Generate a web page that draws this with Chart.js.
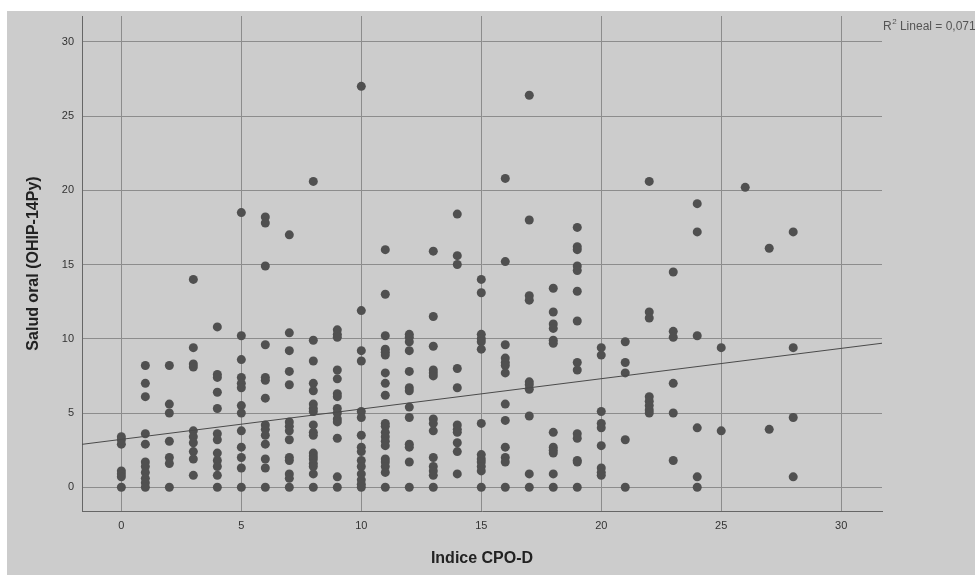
<!DOCTYPE html>
<html>
<head>
<meta charset="utf-8">
<title>Salud oral vs Indice CPO-D</title>
<script src="https://cdn.jsdelivr.net/npm/chart.js@4.4.0/dist/chart.umd.min.js"></script>
<style>
  html, body { margin: 0; padding: 0; background: #ffffff; }
  #wrap { width: 975px; height: 575px; }
</style>
</head>
<body>
<div id="wrap"><canvas id="scatterChart" width="975" height="575"></canvas></div>
<script>
// CPO-D index values (x) and the OHIP-14Py scores seen at each of them (y)
const cpoValues = [0, 1, 2, 3, 4, 5, 6, 7, 8, 9, 10, 11, 12, 13, 14, 15, 16, 17, 18, 19, 20, 21, 22, 23, 24, 25, 26, 27, 28];
const ohipByCpo = [
  [3.4, 3.2, 2.9, 1.1, 0.9, 0.7, 0],
  [8.2, 7.0, 6.1, 3.6, 2.9, 1.7, 1.4, 1.0, 0.6, 0.3, 0],
  [8.2, 5.6, 5.0, 3.1, 2.0, 1.6, 0],
  [14.0, 9.4, 8.3, 8.1, 3.8, 3.4, 3.0, 2.4, 1.9, 0.8],
  [10.8, 7.6, 7.4, 6.4, 5.3, 3.6, 3.2, 2.3, 1.8, 1.4, 0.8, 0],
  [18.5, 10.2, 8.6, 7.4, 7.0, 6.7, 5.5, 5.0, 3.8, 2.7, 2.0, 1.3, 0],
  [18.2, 17.8, 14.9, 9.6, 7.4, 7.2, 6.0, 4.2, 3.9, 3.5, 2.9, 1.9, 1.3, 0],
  [17.0, 10.4, 9.2, 7.8, 6.9, 4.4, 4.1, 3.8, 3.2, 2.0, 1.8, 0.9, 0.6, 0],
  [20.6, 9.9, 8.5, 7.0, 6.5, 5.6, 5.3, 5.1, 4.2, 3.7, 3.5, 2.3, 2.1, 1.9, 1.6, 1.4, 0.9, 0],
  [10.6, 10.3, 10.1, 7.9, 7.3, 6.3, 6.1, 5.3, 5.0, 4.6, 4.4, 3.3, 0.7, 0],
  [27.0, 11.9, 9.2, 8.5, 5.1, 4.7, 3.5, 2.7, 2.4, 1.8, 1.4, 0.9, 0.5, 0.2, 0],
  [16.0, 13.0, 10.2, 9.3, 9.1, 8.9, 7.7, 7.0, 6.2, 4.3, 4.1, 3.7, 3.4, 3.1, 2.8, 1.9, 1.7, 1.4, 1.0, 0],
  [10.3, 10.1, 9.8, 9.2, 7.8, 6.7, 6.5, 5.4, 4.7, 2.9, 2.7, 1.7, 0],
  [15.9, 11.5, 9.5, 7.9, 7.7, 7.5, 4.6, 4.3, 3.8, 2.0, 1.4, 1.1, 0.8, 0],
  [18.4, 15.6, 15.0, 8.0, 6.7, 4.2, 3.9, 3.7, 3.0, 2.4, 0.9],
  [14.0, 13.1, 10.3, 10.0, 9.8, 9.3, 4.3, 2.2, 1.9, 1.7, 1.4, 1.1, 0],
  [20.8, 15.2, 9.6, 8.7, 8.4, 8.2, 7.7, 5.6, 4.5, 2.7, 2.0, 1.7, 0],
  [26.4, 18.0, 12.9, 12.6, 7.1, 6.9, 6.6, 4.8, 0.9, 0],
  [13.4, 11.8, 11.0, 10.7, 9.9, 9.7, 3.7, 2.7, 2.5, 2.3, 0.9, 0],
  [17.5, 16.2, 16.0, 14.9, 14.6, 13.2, 11.2, 8.4, 7.9, 3.6, 3.3, 1.8, 1.7, 0],
  [9.4, 8.9, 5.1, 4.3, 4.0, 2.8, 1.3, 1.0, 0.8],
  [9.8, 8.4, 7.7, 3.2, 0],
  [20.6, 11.8, 11.4, 6.1, 5.8, 5.5, 5.2, 5.0],
  [14.5, 10.5, 10.1, 7.0, 5.0, 1.8],
  [19.1, 17.2, 10.2, 4.0, 0.7, 0],
  [9.4, 3.8],
  [20.2],
  [16.1, 3.9],
  [17.2, 9.4, 4.7, 0.7]
];

// fit line endpoints (at the axis limits) and its R2 text
const fitLineX = [-1.64, 31.7];
const fitLineY = [2.89, 9.70];
const r2Text = '0,071';

// tick labels
const xTicks = [0, 5, 10, 15, 20, 25, 30];
const yTicks = [0, 5, 10, 15, 20, 25, 30];

const points = [];
cpoValues.forEach(function (cpo, i) {
  ohipByCpo[i].forEach(function (score) {
    points.push({ x: cpo, y: score });
  });
});
const fitPoints = fitLineX.map(function (x, i) { return { x: x, y: fitLineY[i] }; });

const FONT = 'Arial, "Liberation Sans", sans-serif';
Chart.defaults.font.family = FONT;

// grey panel behind everything, like SPSS output
const panelBackground = {
  id: 'panelBackground',
  beforeDraw(chart) {
    const ctx = chart.ctx;
    ctx.save();
    ctx.fillStyle = '#cccccc';
    ctx.fillRect(7, 11, chart.width - 7, chart.height - 11);
    ctx.restore();
  }
};

// "R2 Lineal = 0,071" label at the top right
const r2Label = {
  id: 'r2Label',
  afterDraw(chart) {
    const ctx = chart.ctx;
    const x = chart.chartArea.right + 1;
    const y = 27;
    ctx.save();
    ctx.fillStyle = '#555555';
    ctx.textBaseline = 'middle';
    ctx.textAlign = 'left';
    ctx.font = '12px ' + FONT;
    ctx.fillText('R', x, y);
    const rw = ctx.measureText('R').width;
    ctx.font = '8px ' + FONT;
    ctx.fillText('2', x + rw + 0.5, y - 5);
    const sw = ctx.measureText('2').width;
    ctx.font = '12px ' + FONT;
    ctx.fillText(' Lineal = ' + r2Text, x + rw + sw + 0.5, y);
    ctx.restore();
  }
};

new Chart(document.getElementById('scatterChart'), {
  type: 'scatter',
  data: {
    datasets: [
      {
        label: 'Salud oral',
        data: points,
        backgroundColor: '#505050',
        borderWidth: 0,
        pointRadius: 4.5,
        pointHoverRadius: 4.5,
        order: 2
      },
      {
        type: 'line',
        label: 'Lineal',
        data: fitPoints,
        borderColor: '#4a4a4a',
        borderWidth: 1,
        pointRadius: 0,
        fill: false,
        order: 1
      }
    ]
  },
  options: {
    responsive: false,
    animation: false,
    events: [],
    layout: {
      padding: { left: 0, top: 16, right: 93, bottom: 0 }
    },
    plugins: {
      legend: { display: false },
      tooltip: { enabled: false }
    },
    scales: {
      x: {
        type: 'linear',
        min: -1.64,
        max: 31.7,
        afterBuildTicks: function (scale) {
          scale.ticks = xTicks.map(function (v) { return { value: v }; });
        },
        afterFit: function (scale) { scale.height = 64; },
        grid: { color: '#8c8c8c', lineWidth: 1, drawTicks: false },
        border: { color: '#666666', width: 1 },
        ticks: {
          padding: 8,
          color: '#333333',
          font: { size: 11 },
          maxRotation: 0,
          callback: function (v) { return String(v); }
        },
        title: {
          display: true,
          text: 'Indice CPO-D',
          color: '#222222',
          font: { size: 16, weight: 'bold' },
          padding: { top: 0, bottom: 7 }
        }
      },
      y: {
        type: 'linear',
        min: -1.6,
        max: 31.74,
        afterBuildTicks: function (scale) {
          scale.ticks = yTicks.map(function (v) { return { value: v }; });
        },
        afterFit: function (scale) { scale.width = 82; },
        grid: { color: '#8c8c8c', lineWidth: 1, drawTicks: false },
        border: { color: '#666666', width: 1 },
        ticks: {
          padding: 8,
          color: '#333333',
          font: { size: 11 },
          callback: function (v) { return String(v); }
        },
        title: {
          display: true,
          text: 'Salud oral (OHIP-14Py)',
          color: '#222222',
          font: { size: 16, weight: 'bold' },
          padding: { top: 24, bottom: 0 }
        }
      }
    }
  },
  plugins: [panelBackground, r2Label]
});
</script>
</body>
</html>
